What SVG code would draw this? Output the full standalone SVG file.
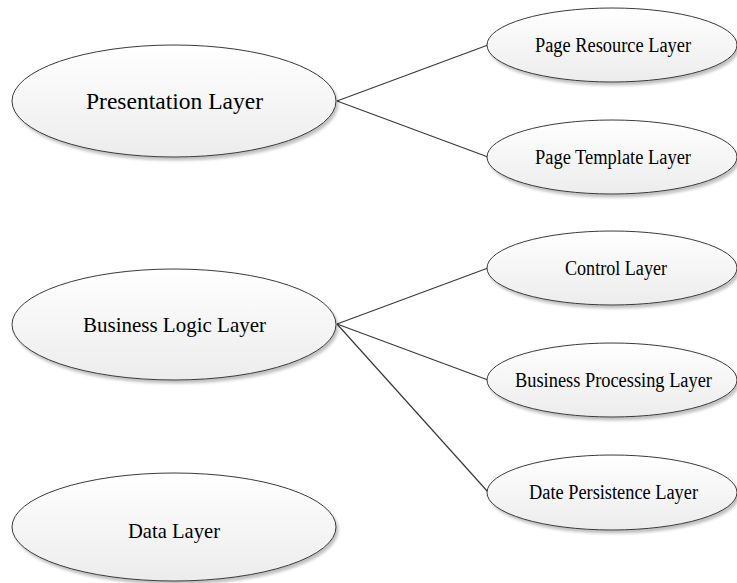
<svg xmlns="http://www.w3.org/2000/svg" width="737" height="583" viewBox="0 0 737 583">
  <defs>
    <linearGradient id="fill" x1="0" y1="0" x2="0" y2="1">
      <stop offset="0" stop-color="#ffffff"/>
      <stop offset="1" stop-color="#ececec"/>
    </linearGradient>
    <filter id="shadow" x="-10%" y="-10%" width="125%" height="130%">
      <feGaussianBlur in="SourceAlpha" stdDeviation="1.5"/>
      <feOffset dx="2" dy="3" result="b"/>
      <feComponentTransfer><feFuncA type="linear" slope="0.25"/></feComponentTransfer>
      <feMerge><feMergeNode/><feMergeNode in="SourceGraphic"/></feMerge>
    </filter>
  </defs>
  <style>
    .node ellipse { fill: url(#fill); stroke: #3a3a3a; stroke-width: 1; filter: url(#shadow); }
    .node text { font-family: "Liberation Serif", "Times New Roman", serif; fill: #000; text-anchor: middle; }
    .big { font-size: 23px; }
    .mid { font-size: 22px; }
    .small { font-size: 20px; }
    .conn line { stroke: #3a3a3a; stroke-width: 1.2; }
  </style>
  <rect width="737" height="583" fill="#ffffff"/>
  <g class="conn" id="connectors">
    <line x1="337" y1="101" x2="488" y2="45"/>
    <line x1="337" y1="101" x2="488" y2="157"/>
    <line x1="337" y1="324" x2="488" y2="268"/>
    <line x1="337" y1="324" x2="488" y2="380"/>
    <line x1="337" y1="324" x2="488" y2="492"/>
  </g>
  <g class="node" id="presentation">
    <ellipse cx="174" cy="101" rx="162" ry="56"/>
    <text x="174.5" y="109" class="big" textLength="177" lengthAdjust="spacingAndGlyphs">Presentation Layer</text>
  </g>
  <g class="node" id="business-logic">
    <ellipse cx="174" cy="324.5" rx="162" ry="55.5"/>
    <text x="174.5" y="331.5" class="mid" textLength="183" lengthAdjust="spacingAndGlyphs">Business Logic Layer</text>
  </g>
  <g class="node" id="data">
    <ellipse cx="174" cy="527" rx="162" ry="54"/>
    <text x="174" y="538" class="mid" textLength="92" lengthAdjust="spacingAndGlyphs">Data Layer</text>
  </g>
  <g class="node" id="page-resource">
    <ellipse cx="612" cy="45" rx="125" ry="37"/>
    <text x="613" y="51.5" class="small" textLength="156" lengthAdjust="spacingAndGlyphs">Page Resource Layer</text>
  </g>
  <g class="node" id="page-template">
    <ellipse cx="612" cy="157" rx="125" ry="37"/>
    <text x="613" y="163.5" class="small" textLength="156" lengthAdjust="spacingAndGlyphs">Page Template Layer</text>
  </g>
  <g class="node" id="control">
    <ellipse cx="612" cy="268" rx="125" ry="37"/>
    <text x="616" y="275" class="small" textLength="102" lengthAdjust="spacingAndGlyphs">Control Layer</text>
  </g>
  <g class="node" id="business-processing">
    <ellipse cx="612" cy="380" rx="125" ry="37"/>
    <text x="613.5" y="386.5" class="small" textLength="197" lengthAdjust="spacingAndGlyphs">Business Processing Layer</text>
  </g>
  <g class="node" id="date-persistence">
    <ellipse cx="612" cy="492.5" rx="125" ry="37.5"/>
    <text x="613.5" y="498.5" class="small" textLength="169" lengthAdjust="spacingAndGlyphs">Date Persistence Layer</text>
  </g>
</svg>
